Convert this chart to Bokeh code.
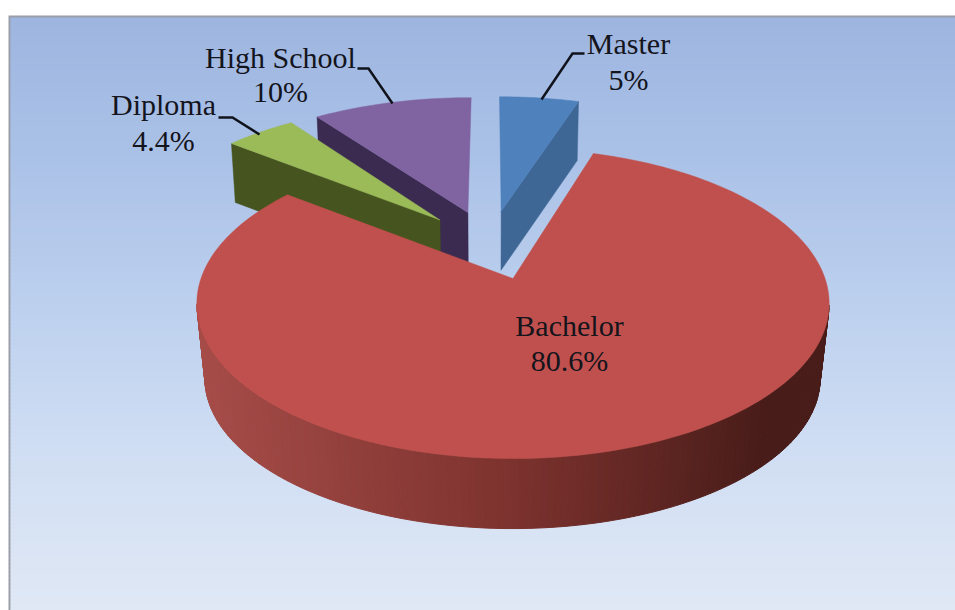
import math

from bokeh.core.properties import value
from bokeh.embed import file_html
from bokeh.models import Range1d
from bokeh.plotting import figure
from bokeh.resources import INLINE

# Education levels and their share of respondents, clockwise from twelve o'clock
categories = ["Master", "Bachelor", "Diploma", "High School"]
shares = [5, 80.6, 4.4, 10]

top_colors = ["#4f81bd", "#c0504d", "#9bbb59", "#8064a2"]
wall_colors = ["#3f6795", "#7d322e", "#46551f", "#3b2b50"]

WIDTH, HEIGHT = 955, 610
FONT = "Liberation Serif"
FONT_SIZE = "30px"
INK = "#14141c"

# Perspective view of the pie plane shared by the small exploded slices
FAR_VIEW = dict(cx=489.5, cy=244.0, a=310.0, b=146.0, p=0.18)
EXPLODE = 0.24
FAR_DEPTH = 59.0
FAR_WALL_SHRINK = 0.985

# The large slice has its own view, centred on its apex
NEAR_VIEW = dict(cx=512.5, cy=278.0, a=312.0, b=151.0, p=0.1613)
NEAR_TWIST = -0.7
NEAR_RIM_CENTRE = (513.5, 303.0)
NEAR_FLOOR_CENTRE = (513.0, 378.0)
NEAR_FLOOR_SCALE = (0.973, 0.968)

# Label placement: text centre per level and the elbow of each leader line
label_centres = {
    "Master": (628, 43, 79),
    "Bachelor": (569, 325, 360),
    "Diploma": (163, 104, 140),
    "High School": (280, 57, 91),
}
leaders = {
    "Master": ([541, 572, 584], [99, 53, 53]),
    "Diploma": ([259, 232, 218], [134, 117, 117]),
    "High School": ([392, 368, 357], [103, 68, 68]),
}


def project(view, u, v):
    w = 1 + view["p"] * v
    return view["cx"] + view["a"] * u / w, view["cy"] - view["b"] * v / w


def far_wedge(start, end):
    """Outline of an exploded slice: apex then rim, in screen coordinates."""
    mid = math.radians((start + end) / 2)
    u0, v0 = EXPLODE * math.sin(mid), EXPLODE * math.cos(mid)
    pts = [project(FAR_VIEW, u0, v0)]
    for i in range(25):
        t = math.radians(start + (end - start) * i / 24)
        pts.append(project(FAR_VIEW, u0 + math.sin(t), v0 + math.cos(t)))
    return pts


def far_drop(pt):
    return FAR_VIEW["cx"] + (pt[0] - FAR_VIEW["cx"]) * FAR_WALL_SHRINK, pt[1] + FAR_DEPTH


def near_drop(pt):
    return (
        NEAR_FLOOR_CENTRE[0] + (pt[0] - NEAR_RIM_CENTRE[0]) * NEAR_FLOOR_SCALE[0],
        NEAR_FLOOR_CENTRE[1] + (pt[1] - NEAR_RIM_CENTRE[1]) * NEAR_FLOOR_SCALE[1],
    )


def mix(c1, c2, f):
    return tuple(round(a + (b - a) * f) for a, b in zip(c1, c2))


def to_hex(c):
    return "#%02x%02x%02x" % tuple(c)


p = figure(
    width=WIDTH,
    height=HEIGHT,
    x_range=Range1d(0, WIDTH),
    y_range=Range1d(HEIGHT, 0),
    x_axis_type=None,
    y_axis_type=None,
    output_backend="svg",
    toolbar_location=None,
    min_border=0,
    outline_line_color=None,
    background_fill_color="white",
    border_fill_color="white",
)
p.grid.visible = False

# Panel: grey frame and a vertical blue wash
p.quad(left=[8], right=[WIDTH], top=[15], bottom=[HEIGHT], fill_color="#9a9ea8", line_color=None)
stops = [(17, (158, 181, 224)), (150, (170, 193, 231)), (300, (188, 208, 238)), (450, (208, 222, 243)), (610, (224, 232, 245))]
edges = list(range(17, HEIGHT, 4)) + [HEIGHT]
lefts, rights, tops, bottoms, fills = [], [], [], [], []
for y0, y1 in zip(edges[:-1], edges[1:]):
    for (s0, c0), (s1, c1) in zip(stops[:-1], stops[1:]):
        if s0 <= y0 <= s1:
            fills.append(to_hex(mix(c0, c1, (y0 - s0) / (s1 - s0))))
            break
    lefts.append(10)
    rights.append(WIDTH)
    tops.append(y0)
    bottoms.append(y1 + 1)
p.quad(left=lefts, right=rights, top=tops, bottom=bottoms, fill_color=fills, line_color=None)

# Slice angles in degrees, clockwise from the top
angles = {}
running = 0.0
for name, share in zip(categories, shares):
    angles[name] = (running, running + share * 3.6)
    running += share * 3.6

styles = {n: (t, w) for n, t, w in zip(categories, top_colors, wall_colors)}


def draw_far(name, wall_from_start):
    start, end = angles[name]
    pts = far_wedge(start, end)
    apex = pts[0]
    corner = pts[1] if wall_from_start else pts[-1]
    wall = [apex, corner, far_drop(corner), far_drop(apex)]
    p.patch([q[0] for q in wall], [q[1] for q in wall], fill_color=styles[name][1], line_color=styles[name][1], line_width=0.5)
    p.patch([q[0] for q in pts], [q[1] for q in pts], fill_color=styles[name][0], line_color=styles[name][0], line_width=0.5)


# Back to front: the cut faces that look toward the viewer
draw_far("High School", True)
draw_far("Diploma", True)
draw_far("Master", False)

# Large slice: shaded outer wall (near half of the rim only), then its top
start, end = angles["Bachelor"]
steps = 260
rim = []
for i in range(steps + 1):
    t = math.radians(start + NEAR_TWIST + (end - start) * i / steps)
    rim.append(project(NEAR_VIEW, math.sin(t), math.cos(t)))

wall_left = (166, 76, 72)
wall_mid = (124, 50, 46)
wall_right = (72, 28, 25)
xs, ys, cols = [], [], []
for q0, q1 in zip(rim[:-1], rim[1:]):
    if min(q0[1], q1[1]) < NEAR_RIM_CENTRE[1]:
        continue
    d0, d1 = near_drop(q0), near_drop(q1)
    f = min(1, max(0, ((q0[0] + q1[0]) / 2 - 197) / 633))
    col = mix(wall_left, wall_mid, f / 0.5) if f < 0.5 else mix(wall_mid, wall_right, min(1, (f - 0.5) / 0.4))
    hex_col = to_hex(col)
    xs.append([q0[0], q1[0], d1[0], d0[0]])
    ys.append([q0[1], q1[1], d1[1], d0[1]])
    cols.append(hex_col)
p.patches(xs, ys, fill_color=cols, line_color=cols, line_width=1)

apex = project(NEAR_VIEW, 0, 0)
top_x = [apex[0]] + [q[0] for q in rim]
top_y = [apex[1]] + [q[1] for q in rim]
p.patch(top_x, top_y, fill_color=styles["Bachelor"][0], line_color=styles["Bachelor"][0], line_width=0.5)

# Leader lines and labels
for name, (lx, ly) in leaders.items():
    p.line(lx, ly, line_color="#10131c", line_width=2.5, line_join="miter")

for name, share in zip(categories, shares):
    x, y1, y2 = label_centres[name]
    for y, txt in ((y1, name), (y2, f"{share:g}%")):
        p.text(
            [x],
            [y],
            text=[txt],
            text_font=value(FONT),
            text_font_size=value(FONT_SIZE),
            text_color=INK,
            text_align="center",
            text_baseline="middle",
        )

open("out.html", "w").write(file_html(p, INLINE))
